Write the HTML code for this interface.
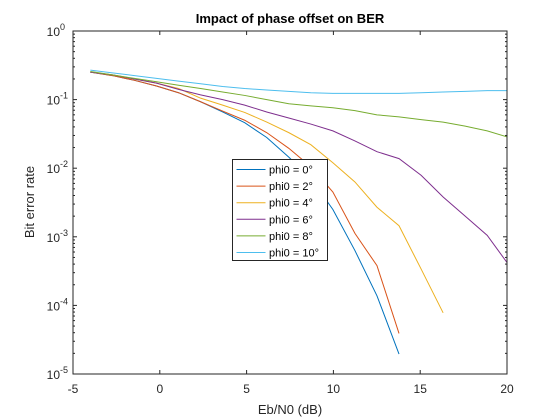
<!DOCTYPE html>
<html><head><meta charset="utf-8"><style>
body{margin:0;background:#fff;}
svg{display:block;font-family:"Liberation Sans",Arial,sans-serif;}
</style></head><body>
<svg id="chart" width="560" height="420" viewBox="0 0 560 420" xmlns="http://www.w3.org/2000/svg">
<defs><clipPath id="clip"><rect x="73" y="31" width="434" height="343"/></clipPath></defs>
<rect x="0" y="0" width="560" height="420" fill="#fff"/>
<g id="grid"></g>
<g id="series" clip-path="url(#clip)"></g>
<rect x="73" y="31" width="434" height="343" fill="none" stroke="#262626" stroke-width="1"/>
<text x="290" y="23" text-anchor="middle" font-size="13" font-weight="bold" fill="#000">Impact of phase offset on BER</text>
<text x="290" y="414" text-anchor="middle" font-size="13" fill="#262626">Eb/N0 (dB)</text>
<text transform="translate(34,202) rotate(-90)" text-anchor="middle" font-size="13" fill="#262626">Bit error rate</text>
<g id="legend"></g>
</svg>
<script>
const xStart = -4;
const xStep = 1.27;
const xTicks = [-5, 0, 5, 10, 15, 20];
const yTickExps = [0, -1, -2, -3, -4, -5];
const seriesNames = ["phi0 = 0°","phi0 = 2°","phi0 = 4°","phi0 = 6°","phi0 = 8°","phi0 = 10°"];
const colors = ["#0072BD","#D95319","#EDB120","#7E2F8E","#77AC30","#4DBEEE"];
const ber0 = [0.251,0.224,0.191,0.158,0.126,0.093,0.066,0.046,0.028,0.0145,0.0071,0.0025,0.00063,0.000138,0.0000195];
const ber2 = [0.251,0.224,0.191,0.158,0.126,0.093,0.068,0.05,0.033,0.0195,0.0105,0.0045,0.00112,0.00038,0.000039];
const ber4 = [0.251,0.229,0.2,0.174,0.145,0.105,0.083,0.065,0.047,0.033,0.022,0.012,0.0063,0.0027,0.00145,0.00034,0.000078];
const ber6 = [0.251,0.229,0.2,0.174,0.141,0.117,0.1,0.083,0.066,0.054,0.044,0.035,0.025,0.0174,0.0138,0.0079,0.0038,0.002,0.00105,0.00038];
const ber8 = [0.257,0.229,0.204,0.182,0.162,0.145,0.129,0.115,0.1,0.087,0.081,0.076,0.069,0.06,0.056,0.051,0.047,0.041,0.035,0.028];
const ber10 = [0.269,0.245,0.224,0.204,0.186,0.17,0.155,0.145,0.138,0.132,0.126,0.123,0.123,0.123,0.123,0.126,0.129,0.132,0.135,0.135];
const allSeries = [ber0, ber2, ber4, ber6, ber8, ber10];

const L=73,R=507,T=31,B=374;
const xMin=-5,xMax=20,yMinE=-5,yMaxE=0;
const sx = v => L + (v-xMin)/(xMax-xMin)*(R-L);
const sy = v => T + (yMaxE-Math.log10(v))/(yMaxE-yMinE)*(B-T);
const NS="http://www.w3.org/2000/svg";
const svg=document.getElementById('chart');
const grid=document.getElementById('grid');
function mk(tag, attrs, parent){const e=document.createElementNS(NS,tag);for(const k in attrs)e.setAttribute(k,attrs[k]);parent.appendChild(e);return e;}

xTicks.forEach(t=>{
  const x=sx(t);
  mk('line',{x1:x,y1:B,x2:x,y2:B-4,stroke:'#262626'},grid);
  mk('line',{x1:x,y1:T,x2:x,y2:T+4,stroke:'#262626'},grid);
  const tx=mk('text',{x:x,y:B+19,'text-anchor':'middle','font-size':12,fill:'#262626'},svg);
  
  
  tx.textContent=String(t);
});
yTickExps.forEach(e=>{
  const y=sy(Math.pow(10,e));
  mk('line',{x1:L,y1:y,x2:L+4,y2:y,stroke:'#262626'},grid);
  mk('line',{x1:R,y1:y,x2:R-4,y2:y,stroke:'#262626'},grid);
  if(e>yMinE){for(let m=2;m<=9;m++){const ym=sy(m*Math.pow(10,e-1));
    mk('line',{x1:L,y1:ym,x2:L+2,y2:ym,stroke:'#262626'},grid);
    mk('line',{x1:R,y1:ym,x2:R-2,y2:ym,stroke:'#262626'},grid);}}
  const tx=mk('text',{x:60,y:y+5,'text-anchor':'end','font-size':12,fill:'#262626'},svg);
  
  
  tx.textContent='10';
  const sup=mk('text',{x:60,y:y-1,'text-anchor':'start','font-size':9,fill:'#262626'},svg);
  
  
  sup.textContent=String(e);
});
const sg=document.getElementById('series');
allSeries.forEach((arr,i)=>{
  const pts=arr.map((v,j)=>sx(xStart+j*xStep).toFixed(2)+','+sy(v).toFixed(2)).join(' ');
  const pl=mk('polyline',{points:pts,fill:'none',stroke:colors[i],'stroke-width':1},sg);
  
  
});
const lg=document.getElementById('legend');
const box=mk('rect',{x:232.5,y:159.5,width:95,height:101,fill:'#fff',stroke:'#262626','stroke-width':1},lg);


seriesNames.forEach((n,i)=>{
  const y=169.5+i*16.6;
  const ln=mk('line',{x1:236.5,y1:y,x2:265.5,y2:y,stroke:colors[i],'stroke-width':1},lg);
  
  
  const t=mk('text',{x:269,y:y+4,'font-size':11,fill:'#000'},lg);
  
  
  t.textContent=n;
});
</script>
</body></html>
